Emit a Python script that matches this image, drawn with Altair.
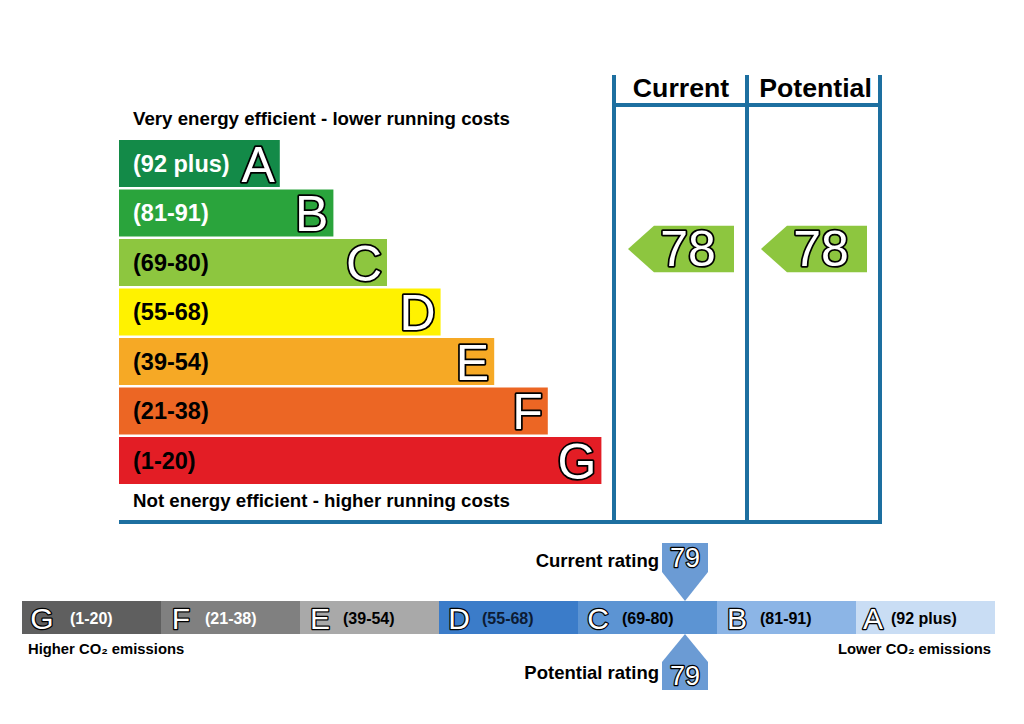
import altair as alt
import pandas as pd

# ---------------- data ----------------
letters = ["A", "B", "C", "D", "E", "F", "G"]
ranges = ["(92 plus)", "(81-91)", "(69-80)", "(55-68)", "(39-54)", "(21-38)", "(1-20)"]
bar_units = [3, 4, 5, 6, 7, 8, 9]          # relative bar lengths of the efficiency bands
eff_colors = ["#138a48", "#2aa43c", "#8dc63f", "#fff200", "#f6a925", "#ec6624", "#e31d25"]
eff_text = ["white", "white", "black", "black", "black", "black", "black"]

co2_letters = ["G", "F", "E", "D", "C", "B", "A"]
co2_ranges = ["(1-20)", "(21-38)", "(39-54)", "(55-68)", "(69-80)", "(81-91)", "(92 plus)"]
co2_colors = ["#5f5f5f", "#808080", "#a9a9a9", "#3b7cc9", "#5c94d3", "#8cb5e6", "#c9ddf4"]
co2_text = ["white", "white", "black", "#0d1b33", "black", "black", "black"]

current_eer, potential_eer = 78, 78
current_ei, potential_ei = 79, 79

BLUE = "#1d6fa0"
FONT = "Liberation Sans"

# ---------------- layout ----------------
X0, UNIT = 119, 53.6
ROW0, STEP, ROWH = 140, 49.5, 47

X = lambda f="x": alt.X(f"{f}:Q", scale=alt.Scale(domain=[8, 1016], nice=False, zero=False), axis=None)
Y = lambda f="y": alt.Y(f"{f}:Q", scale=alt.Scale(domain=[8, 716], nice=False, zero=False, reverse=True), axis=None)

bars = pd.DataFrame({
    "letter": letters, "range": ranges, "col": eff_colors, "tc": eff_text,
    "x": [X0] * 7,
    "x2": [X0 + u * UNIT for u in bar_units],
    "y": [ROW0 + i * STEP for i in range(7)],
    "y2": [ROW0 + i * STEP + ROWH for i in range(7)],
})
bars["ym"] = (bars["y"] + bars["y2"]) / 2 + 1
bars["xl"] = 133
bars["xr"] = bars["x2"] - 5

bar_rect = alt.Chart(bars).mark_rect().encode(
    x=X(), x2="x2", y=Y(), y2="y2", color=alt.Color("col:N", scale=None))
bar_range = alt.Chart(bars).mark_text(align="left", baseline="middle", font=FONT, fontSize=23.5,
                                      fontWeight="bold").encode(
    x=X("xl"), y=Y("ym"), text="range:N", color=alt.Color("tc:N", scale=None))
bar_let_o = alt.Chart(bars).mark_text(align="right", baseline="middle", font=FONT, fontSize=50,
                                      fill="black", stroke="black", strokeWidth=3.5,
                                      strokeJoin="round", dy=2).encode(
    x=X("xr"), y=Y("ym"), text="letter:N")
bar_let = alt.Chart(bars).mark_text(align="right", baseline="middle", font=FONT, fontSize=50,
                                    fill="white", dy=2).encode(
    x=X("xr"), y=Y("ym"), text="letter:N")

# captions
caps = pd.DataFrame({
    "t": ["Very energy efficient - lower running costs", "Not energy efficient - higher running costs"],
    "x": [133, 133], "y": [119, 501]})
cap_txt = alt.Chart(caps).mark_text(align="left", baseline="middle", font=FONT, fontSize=18.7,
                                    fontWeight="bold", color="black").encode(
    x=X(), y=Y(), text="t:N")

heads = pd.DataFrame({"t": ["Current", "Potential"], "x": [681, 815.5], "y": [89, 89]})
head_txt = alt.Chart(heads).mark_text(align="center", baseline="middle", font=FONT, fontSize=26.7,
                                      fontWeight="bold", color="black").encode(
    x=X(), y=Y(), text="t:N")

# blue frame lines
lines = pd.DataFrame({
    "x": [119, 614, 747, 880, 614],
    "x2": [882, 614, 747, 880, 880],
    "y": [522, 75, 75, 75, 105],
    "y2": [522, 524, 524, 524, 105],
})
frame = alt.Chart(lines).mark_rule(color=BLUE, strokeWidth=4).encode(
    x=X(), x2="x2", y=Y(), y2="y2")

# rating arrows (pointing left)
arrows = pd.DataFrame({"x": [681, 814], "y": [249, 249],
                       "v": [str(current_eer), str(potential_eer)]})
arrow_shape = "M-1,0L-0.51,-0.44L1,-0.44L1,0.44L-0.51,0.44Z"
arr = alt.Chart(arrows).mark_point(shape=arrow_shape, filled=True, opacity=1, size=106 * 106,
                                   color="#8dc63f", strokeWidth=0).encode(x=X(), y=Y())
arrows["xt"] = arrows["x"] + 7
arr_to = alt.Chart(arrows).mark_text(align="center", baseline="middle", font=FONT, fontSize=50,
                                     fill="black", stroke="black", strokeWidth=3.5,
                                     strokeJoin="round", dy=2).encode(x=X("xt"), y=Y(), text="v:N")
arr_t = alt.Chart(arrows).mark_text(align="center", baseline="middle", font=FONT, fontSize=50,
                                    fill="white", dy=2).encode(x=X("xt"), y=Y(), text="v:N")

# ---------------- CO2 bar ----------------
SX0, SW, SY0, SY1 = 22, 139, 601, 634
let_off = [20, 20, 20, 20, 20, 20, 17]
rng_off = [48, 44, 43, 43, 44, 43, 35]
seg = pd.DataFrame({
    "letter": co2_letters, "range": co2_ranges, "col": co2_colors, "tc": co2_text,
    "x": [SX0 + i * SW for i in range(7)],
    "x2": [SX0 + (i + 1) * SW for i in range(7)],
    "y": [SY0] * 7, "y2": [SY1] * 7,
})
seg["ym"] = (SY0 + SY1) / 2 + 1
seg["xl"] = seg["x"] + pd.Series(let_off)
seg["xr"] = seg["x"] + pd.Series(rng_off)

seg_rect = alt.Chart(seg).mark_rect().encode(
    x=X(), x2="x2", y=Y(), y2="y2", color=alt.Color("col:N", scale=None))
seg_let_o = alt.Chart(seg).mark_text(align="center", baseline="middle", font=FONT, fontSize=30,
                                     fill="black", stroke="black", strokeWidth=2.5,
                                     strokeJoin="round", dy=1).encode(
    x=X("xl"), y=Y("ym"), text="letter:N")
seg_let = alt.Chart(seg).mark_text(align="center", baseline="middle", font=FONT, fontSize=30,
                                   fill="white", dy=1).encode(x=X("xl"), y=Y("ym"), text="letter:N")
seg_rng = alt.Chart(seg).mark_text(align="left", baseline="middle", font=FONT, fontSize=16,
                                   fontWeight="bold").encode(
    x=X("xr"), y=Y("ym"), text="range:N", color=alt.Color("tc:N", scale=None))

co2_caps = pd.DataFrame({"t": ["Higher CO₂ emissions", "Lower CO₂ emissions"],
                         "x": [28, 991], "y": [650, 650], "a": ["l", "r"]})
co2_l = alt.Chart(co2_caps[co2_caps.a == "l"]).mark_text(
    align="left", baseline="middle", font=FONT, fontSize=14.8, fontWeight="bold", color="black").encode(
    x=X(), y=Y(), text="t:N")
co2_r = alt.Chart(co2_caps[co2_caps.a == "r"]).mark_text(
    align="right", baseline="middle", font=FONT, fontSize=14.8, fontWeight="bold", color="black").encode(
    x=X(), y=Y(), text="t:N")

# pointers
PCOL = "#6b9bd4"
down = pd.DataFrame({"x": [685], "y": [572], "v": [str(current_ei)], "ty": [558],
                     "lab": ["Current rating"], "lx": [659], "ly": [561]})
up = pd.DataFrame({"x": [685], "y": [662], "v": [str(potential_ei)], "ty": [676],
                   "lab": ["Potential rating"], "lx": [659], "ly": [673]})
down_p = alt.Chart(down).mark_point(shape="M-1,-1.26L1,-1.26L1,0L0,1.26L-1,0Z", filled=True,
                                    opacity=1, size=46 * 46, color=PCOL, strokeWidth=0).encode(x=X(), y=Y())
up_p = alt.Chart(up).mark_point(shape="M0,-1.22L1,0L1,1.22L-1,1.22L-1,0Z", filled=True,
                                opacity=1, size=46 * 46, color=PCOL, strokeWidth=0).encode(x=X(), y=Y())
ptr = pd.concat([down, up])
ptr_to = alt.Chart(ptr).mark_text(align="center", baseline="middle", font=FONT, fontSize=27,
                                  fill="black", stroke="black", strokeWidth=2.5,
                                  strokeJoin="round", dy=1).encode(x=X(), y=Y("ty"), text="v:N")
ptr_t = alt.Chart(ptr).mark_text(align="center", baseline="middle", font=FONT, fontSize=27,
                                 fill="white", dy=1).encode(x=X(), y=Y("ty"), text="v:N")
ptr_lab = alt.Chart(ptr).mark_text(align="right", baseline="middle", font=FONT, fontSize=18.5,
                                   fontWeight="bold", color="black").encode(
    x=X("lx"), y=Y("ly"), text="lab:N")

chart = alt.layer(
    bar_rect, bar_range, bar_let_o, bar_let, cap_txt, head_txt, frame,
    arr, arr_to, arr_t,
    seg_rect, seg_let_o, seg_let, seg_rng, co2_l, co2_r,
    down_p, up_p, ptr_to, ptr_t, ptr_lab,
).properties(width=1008, height=708, padding=0, autosize="none", background="white"
).configure_view(stroke=None)

chart.save("out.html", embed_options={"renderer": "svg", "actions": False})
